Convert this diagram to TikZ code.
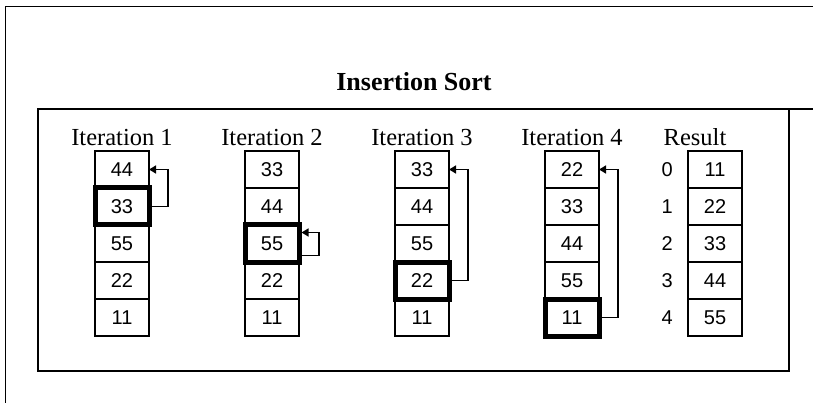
\documentclass[tikz,border=0pt]{standalone}
\usepackage{fontspec}
\setmainfont{Liberation Serif}
\setsansfont{Liberation Sans}
\usetikzlibrary{arrows.meta,positioning}

\begin{document}
\begin{tikzpicture}[
      x=1pt, y=-1pt,
      node distance=0pt,
      cell/.style={draw, line width=1.6pt, outer sep=0pt, inner sep=0pt,
        minimum width=54pt, minimum height=37pt,
        font=\sffamily\fontsize{20}{20}\selectfont},
      picked/.style={line width=5pt},
      heading/.style={inner sep=0pt, font=\fontsize{24.5}{24.5}\selectfont},
      index/.style={inner sep=0pt, font=\sffamily\fontsize{20}{20}\selectfont},
      arrow/.style={-{Triangle[length=7pt,width=8pt]}, line width=1.5pt},
      frame/.style={line width=1.7pt}
    ]
    \useasboundingbox (0,0) rectangle (813,403);

    \node[font=\bfseries\fontsize{26}{26}\selectfont] (title) at (414,82)
      {Insertion Sort};

    % iteration 1
    \node[cell] (one44) at (122,169.5) {44};
    \node[cell, picked, below=of one44] (one33) {33};
    \node[cell, below=of one33] (one55) {55};
    \node[cell, below=of one55] (one22) {22};
    \node[cell, below=of one22] (one11) {11};
    \node[heading, above=5pt of one44] (oneLabel) {Iteration 1};

    % iteration 2
    \node[cell] (two33) at (272,169.5) {33};
    \node[cell, below=of two33] (two44) {44};
    \node[cell, picked, below=of two44] (two55) {55};
    \node[cell, below=of two55] (two22) {22};
    \node[cell, below=of two22] (two11) {11};
    \node[heading, above=5pt of two33] (twoLabel) {Iteration 2};

    % iteration 3
    \node[cell] (three33) at (422,169.5) {33};
    \node[cell, below=of three33] (three44) {44};
    \node[cell, below=of three44] (three55) {55};
    \node[cell, picked, below=of three55] (three22) {22};
    \node[cell, below=of three22] (three11) {11};
    \node[heading, above=5pt of three33] (threeLabel) {Iteration 3};

    % iteration 4
    \node[cell] (four22) at (572,169.5) {22};
    \node[cell, below=of four22] (four33) {33};
    \node[cell, below=of four33] (four44) {44};
    \node[cell, below=of four44] (four55) {55};
    \node[cell, picked, below=of four55] (four11) {11};
    \node[heading, above=5pt of four22] (fourLabel) {Iteration 4};

    % result
    \node[cell] (result11) at (715,169.5) {11};
    \node[cell, below=of result11] (result22) {22};
    \node[cell, below=of result22] (result33) {33};
    \node[cell, below=of result33] (result44) {44};
    \node[cell, below=of result44] (result55) {55};
    \node[heading, above=5pt of result11, xshift=-20pt] (resultLabel) {Result};
    \node[index, left=15pt of result11] (index0) {0};
    \node[index, left=15pt of result22] (index1) {1};
    \node[index, left=15pt of result33] (index2) {2};
    \node[index, left=15pt of result44] (index3) {3};
    \node[index, left=15pt of result55] (index4) {4};

    \draw[arrow] (one33.east) -- ++(19,0) |- (one44.east);
    \draw[arrow] ([yshift=-12pt]two55.east) -- ++(20,0)
      |- ([yshift=11pt, xshift=2.5pt]two55.east);
    \draw[arrow] (three22.east) -- ++(19,0) |- (three33.east);
    \draw[arrow] (four11.east) -- ++(19,0) |- (four22.east);

    \draw[frame] (5.5,410) |- (820,6.5);
    \draw[frame] (820,109) -- (38,109) |- (789,371) -- (789,109);
  \end{tikzpicture}
\end{document}
